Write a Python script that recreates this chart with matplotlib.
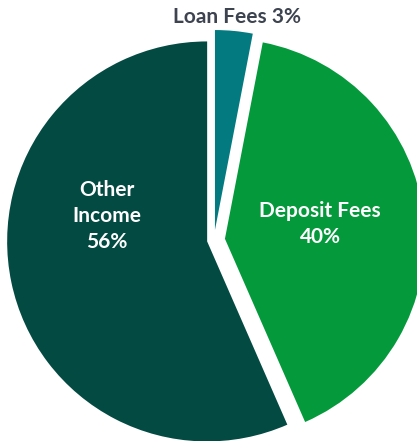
import matplotlib
matplotlib.use('Agg')
from matplotlib import pyplot as plt

# revenue mix
categories = ["Loan Fees", "Deposit Fees", "Other Income"]
shares = [3, 40, 56]
colors = ["#027a80", "#049a3b", "#034a42"]
explode = [0.05, 0.055, 0.035]

plt.rcParams['font.family'] = ['Lato', 'DejaVu Sans']

fig = plt.figure(figsize=(4.17, 4.41), dpi=100)
ax = fig.add_axes([0, 0, 1, 1])

wedges, _ = ax.pie(shares, colors=colors, explode=explode, startangle=90,
                   counterclock=False, radius=1.0, normalize=True,
                   wedgeprops=dict(linewidth=0))

# center of pie sits at pixel (214, 240) with radius 200 px
cx, cy, r = 214, 240, 200
ax.set_xlim(-cx / r, (417 - cx) / r)
ax.set_ylim(-(441 - cy) / r, cy / r)
ax.set_aspect('equal', adjustable='box')
ax.axis('off')

def px(x, y):
    return (x - cx) / r, (cy - y) / r

ax.text(*px(237, 17), f"{categories[0]} {shares[0]}%", ha='center', va='center',
        fontsize=15, fontweight='bold', color='#3d4450')
ax.text(*px(320, 224), f"{categories[1]}\n{shares[1]}%", ha='center', va='center',
        fontsize=15, fontweight='bold', color='white', linespacing=1.4)
ax.text(*px(107, 216), "Other\nIncome\n" + f"{shares[2]}%", ha='center', va='center',
        fontsize=15, fontweight='bold', color='white', linespacing=1.4)

plt.savefig("out.png", dpi=100)
plt.close()
